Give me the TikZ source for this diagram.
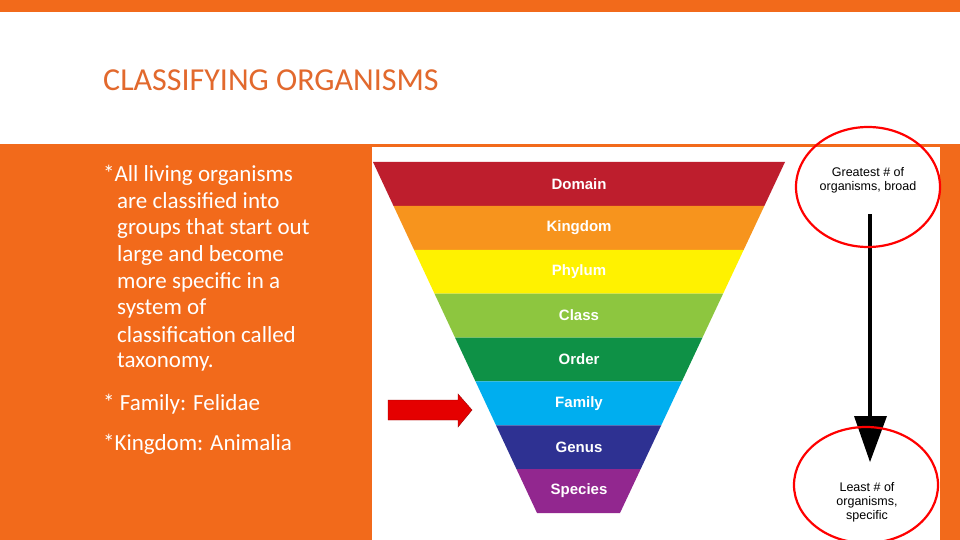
\documentclass[tikz,border=0pt]{standalone}
\usepackage{fontspec}
\setmainfont{Carlito}
\newfontfamily\arialf{Liberation Sans}
\begin{document}
\begin{tikzpicture}[x=1pt,y=-1pt,
  band/.style={font=\arialf\bfseries\fontsize{15}{15}\selectfont,text=white},
  body/.style={anchor=west,text=white,font=\fontsize{23}{23}\selectfont,inner sep=0},
  note/.style={font=\arialf\fontsize{12.5}{14}\selectfont,align=center,inner sep=0}]
\definecolor{org}{HTML}{F26A1B}
\definecolor{ttl}{HTML}{E2692D}
\useasboundingbox (0,0) rectangle (960,540);
\fill[org] (0,0) rectangle (960,540);
\fill[white] (0,12) rectangle (960,144);
\fill[white] (372,147) rectangle (940,540);
\node[anchor=west,text=ttl,font=\fontsize{32}{32}\selectfont,inner sep=0] (title) at (103,80) {CLASSIFYING ORGANISMS};
\node[body] (l1) at (103,175) {*All living organisms};
\node[body] (l2) at (117,201) {are classified into};
\node[body] (l3) at (117,228) {groups that start out};
\node[body] (l4) at (117,255) {large and become};
\node[body] (l5) at (117,282) {more specific in a};
\node[body] (l6) at (117,308) {system of};
\node[body] (l7) at (117,335) {classification called};
\node[body] (l8) at (117,362) {taxonomy.};
\node[body] (l9) at (103,404) {* Family: Felidae};
\node[body] (l10) at (103,444) {*Kingdom: Animalia};
% pyramid
\foreach \i/\c/\t in {
  0/BE1E2D/Domain,1/F7941D/Kingdom,2/FFF200/Phylum,3/8DC63F/Class,
  4/0E9146/Order,5/00AEEF/Family,6/2E3192/Genus,7/92278F/Species}{
  \pgfmathsetmacro\ya{162+43.875*\i}
  \pgfmathsetmacro\yb{162+43.875*(\i+1)}
  \pgfmathsetmacro\la{373+(\ya-162)/351*164}
  \pgfmathsetmacro\lb{373+(\yb-162)/351*164}
  \pgfmathsetmacro\ra{785-(\ya-162)/351*165}
  \pgfmathsetmacro\rb{785-(\yb-162)/351*165}
  \definecolor{bc}{HTML}{\c}
  \fill[bc] (\la,\ya) -- (\ra,\ya) -- (\rb,\yb) -- (\lb,\yb) -- cycle;
  \node[band] (b\i) at (579,{(\ya+\yb)/2}) {\t};
}
% red arrow
\fill[red!90!black,draw=red!60!black] (388,400) -- (458,400) -- (458,394) -- (472,410) -- (458,427) -- (458,420) -- (388,420) -- cycle;
% notes
\node[note] (top) at (868,180) {Greatest \# of\\organisms, broad};
\node[note] (bot) at (867,502) {Least \# of\\organisms,\\specific};
\coordinate (at) at (870,214);
\draw[line width=4pt] (at) -- (870,418);
\fill (854,416) -- (887,416) -- (870,462) -- cycle;
\draw[red,line width=2.2pt] (868,187) ellipse [x radius=72,y radius=60];
\draw[red,line width=2.2pt] (866,485) ellipse [x radius=72,y radius=58];
\end{tikzpicture}
\end{document}
